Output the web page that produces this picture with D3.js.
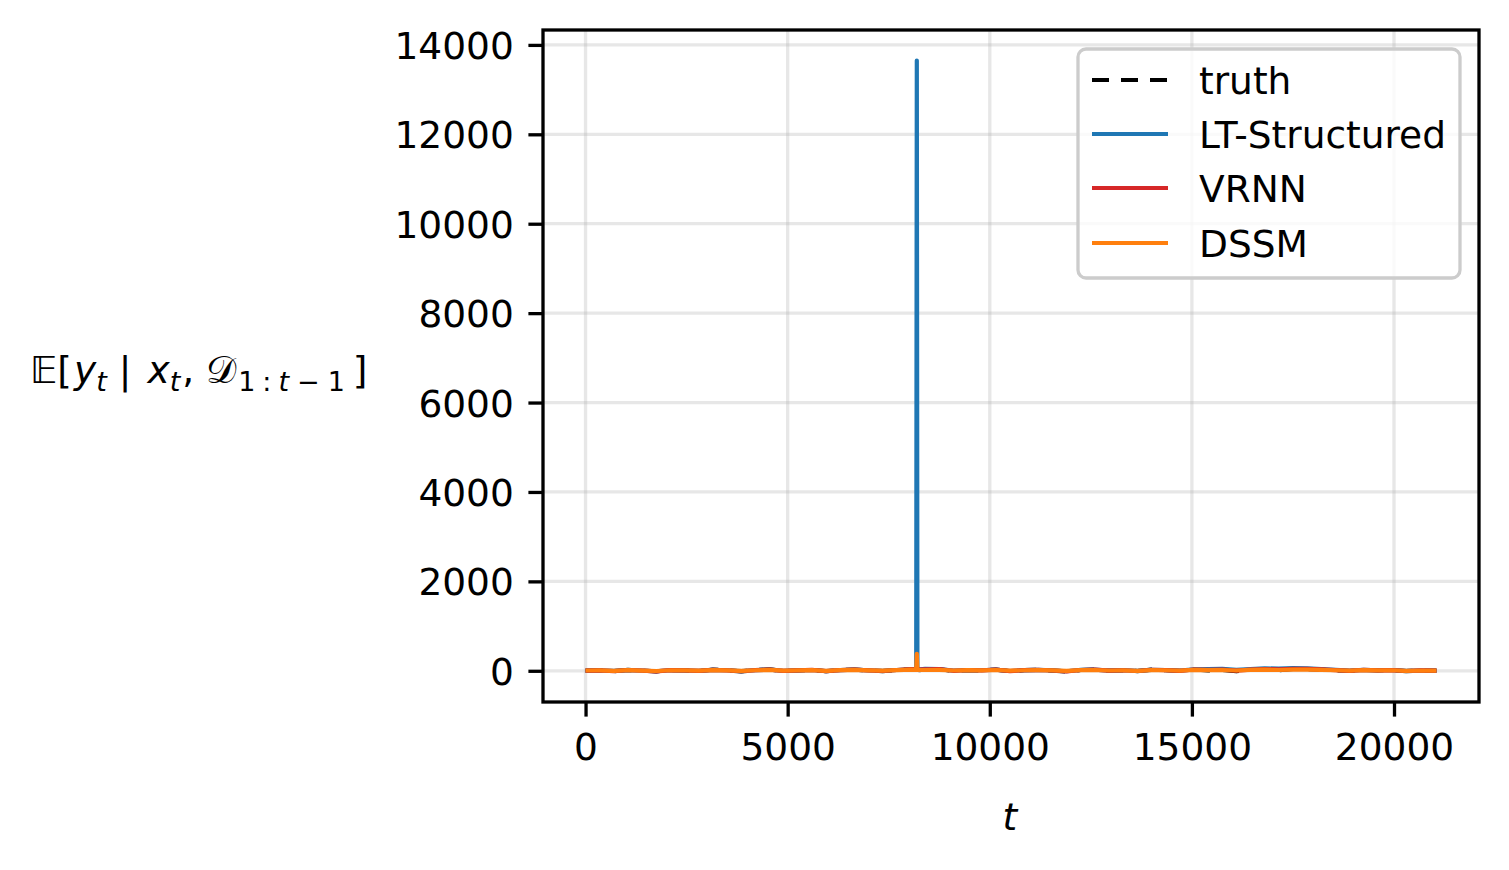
<!DOCTYPE html>
<html>
<head>
<meta charset="utf-8">
<script src="https://cdn.jsdelivr.net/npm/d3@7"></script>
<style>
  html, body { margin: 0; padding: 0; background: #fff; }
  svg { display: block; font-family: "DejaVu Sans", sans-serif; }
</style>
</head>
<body>
<svg id="chart" width="1509" height="870"></svg>
<script>
// ---- data ----
const tValues = [0,350,700,1050,1400,1750,2100,2450,2800,3150,3500,3850,4200,4550,4900,5250,5600,5950,6300,6650,7000,7350,7700,8050,8180,8195,8210,8400,8750,9100,9450,9800,10150,10500,10850,11200,11550,11900,12250,12600,12950,13300,13650,14000,14350,14700,15050,15400,15750,16100,16450,16800,17150,17500,17850,18200,18550,18900,19250,19600,19950,20300,20650,21050];
const truthValues = [5,12,-8,20,3,-15,18,7,-5,25,10,-12,15,30,-3,8,22,-10,14,28,6,-6,19,32,25,30,20,12,35,-4,16,9,27,-9,13,21,4,-14,17,26,2,11,-7,24,15,-2,29,8,18,-11,22,33,14,40,38,25,12,-5,20,9,16,-8,6,3];
const ltStructuredValues = [3,10,-4,15,6,-10,14,9,-2,20,12,-8,13,24,0,10,18,-6,16,25,9,-3,17,40,30,13650,28,45,38,2,18,12,25,-5,15,20,8,-10,19,24,5,13,-3,22,18,2,30,35,45,20,40,55,48,60,52,35,20,5,22,12,15,-3,8,5];
const vrnnValues = [4,11,-6,18,4,-12,16,8,-4,22,11,-10,14,27,-2,9,20,-8,15,26,7,-5,18,35,28,40,25,30,36,0,17,10,26,-7,14,20,6,-12,18,25,3,12,-5,23,16,0,29,20,25,5,28,40,30,45,42,30,16,0,21,10,15,-5,7,4];
const dssmValues = [6,10,0,14,5,-5,12,8,2,16,10,-3,12,20,4,9,15,0,13,20,8,2,15,25,22,380,20,18,22,6,14,10,18,2,12,15,8,-2,14,18,6,10,0,16,12,4,20,14,18,6,20,25,18,28,25,20,12,2,15,10,12,0,6,4];
const seriesNames = ["truth", "LT-Structured", "VRNN", "DSSM"];
const seriesColors = ["#000000", "#1f77b4", "#d62728", "#ff7f0e"];
const xTicks = [0, 5000, 10000, 15000, 20000];
const yTicks = [0, 2000, 4000, 6000, 8000, 10000, 12000, 14000];

// ---- layout ----
const svg = d3.select("#chart");
const L = 543, R = 1479, T = 30, B = 702;
const FS = 37.5;
const lw = 4.2;

const allSeries = [truthValues, ltStructuredValues, vrnnValues, dssmValues];
const xExt = d3.extent(tValues);
const xPad = (xExt[1] - xExt[0]) * 0.05;
const yMin = d3.min(allSeries, s => d3.min(s));
const yMax = d3.max(allSeries, s => d3.max(s));
const yPad = (yMax - yMin) * 0.05;

const x = d3.scaleLinear().domain([xExt[0] - xPad, xExt[1] + xPad]).range([L, R]);
const y = d3.scaleLinear().domain([yMin - yPad, yMax + yPad]).range([B, T]);

// grid
const grid = svg.append("g");
grid.selectAll("line.gx").data(xTicks).join("line")
  .attr("x1", d => x(d)).attr("x2", d => x(d)).attr("y1", T).attr("y2", B)
  .attr("stroke", "#b0b0b0").attr("stroke-opacity", 0.3).attr("stroke-width", 3.3);
grid.selectAll("line.gy").data(yTicks).join("line")
  .attr("y1", d => y(d)).attr("y2", d => y(d)).attr("x1", L).attr("x2", R)
  .attr("stroke", "#b0b0b0").attr("stroke-opacity", 0.3).attr("stroke-width", 3.3);

// lines
svg.append("clipPath").attr("id", "clip").append("rect")
  .attr("x", L).attr("y", T).attr("width", R - L).attr("height", B - T);
const lineGen = vals => d3.line().x((d, i) => x(tValues[i])).y(d => y(d))(vals);
const plot = svg.append("g").attr("clip-path", "url(#clip)");
allSeries.forEach((vals, i) => {
  plot.append("path")
    .attr("d", lineGen(vals))
    .attr("fill", "none")
    .attr("stroke", seriesColors[i])
    .attr("stroke-width", lw)
    .attr("stroke-linejoin", "round")
    .attr("stroke-dasharray", i === 0 ? "17,12" : null);
});

// axes
const xAxis = svg.append("g").attr("transform", `translate(0,${B})`)
  .call(d3.axisBottom(x).tickValues(xTicks).tickFormat(d3.format("d")).tickSize(14.6).tickPadding(14));
const yAxis = svg.append("g").attr("transform", `translate(${L},0)`)
  .call(d3.axisLeft(y).tickValues(yTicks).tickFormat(d3.format("d")).tickSize(14.6).tickPadding(14.6));
[xAxis, yAxis].forEach(a => {
  a.select(".domain").remove();
  a.selectAll(".tick line").attr("stroke", "#000").attr("stroke-width", 3.3);
  a.selectAll(".tick text").attr("fill", "#000").attr("font-size", FS).attr("font-family", "DejaVu Sans");
});
xAxis.selectAll(".tick text").attr("dy", null).attr("y", 58);
yAxis.selectAll(".tick text").attr("dy", "0.36em");

// frame
svg.append("rect").attr("x", L).attr("y", T).attr("width", R - L).attr("height", B - T)
  .attr("fill", "none").attr("stroke", "#000").attr("stroke-width", 3.3);

// axis labels
svg.append("text").attr("x", x(xTicks[2]) + 20).attr("y", 830).attr("text-anchor", "middle")
  .attr("font-size", FS).attr("font-style", "italic").text("t");

const SUB = FS * 0.72, SD = 8;
const yl = svg.append("text").attr("x", 30).attr("y", 383).attr("font-size", FS);
yl.append("tspan").text("𝔼[");
yl.append("tspan").attr("font-style", "italic").attr("dx", 2).text("y");
yl.append("tspan").attr("font-style", "italic").attr("font-size", SUB).attr("dy", SD).text("t");
yl.append("tspan").attr("dy", -SD).attr("dx", 12).text("|");
yl.append("tspan").attr("font-style", "italic").attr("dx", 16).text("x");
yl.append("tspan").attr("font-style", "italic").attr("font-size", SUB).attr("dy", SD).text("t");
yl.append("tspan").attr("dy", -SD).attr("dx", 2).text(",");
yl.append("tspan").attr("dx", 12).text("𝒟");
yl.append("tspan").attr("font-size", SUB).attr("dy", SD).attr("dx", 2).text("1");
yl.append("tspan").attr("font-size", SUB).attr("dx", 7).text(":");
yl.append("tspan").attr("font-size", SUB).attr("dx", 7).attr("font-style", "italic").text("t");
yl.append("tspan").attr("font-size", SUB).attr("dx", 8).text("−");
yl.append("tspan").attr("font-size", SUB).attr("dx", 8).text("1");
yl.append("tspan").attr("dy", -SD).attr("dx", 8).text("]");

// legend
const lg = svg.append("g");
lg.append("rect").attr("x", 1078).attr("y", 49).attr("width", 382).attr("height", 229)
  .attr("rx", 8).attr("fill", "#fff").attr("fill-opacity", 0.8)
  .attr("stroke", "#cccccc").attr("stroke-width", 3.3);
const rowsY = [80, 134, 188, 243];
seriesNames.forEach((name, i) => {
  lg.append("line").attr("x1", 1092).attr("x2", 1168).attr("y1", rowsY[i]).attr("y2", rowsY[i])
    .attr("stroke", seriesColors[i]).attr("stroke-width", lw)
    .attr("stroke-dasharray", i === 0 ? "17,12" : null);
  lg.append("text").attr("x", 1199).attr("y", rowsY[i]).attr("dy", "0.36em")
    .attr("font-size", FS).attr("fill", "#000").text(name);
});
</script>
</body>
</html>
